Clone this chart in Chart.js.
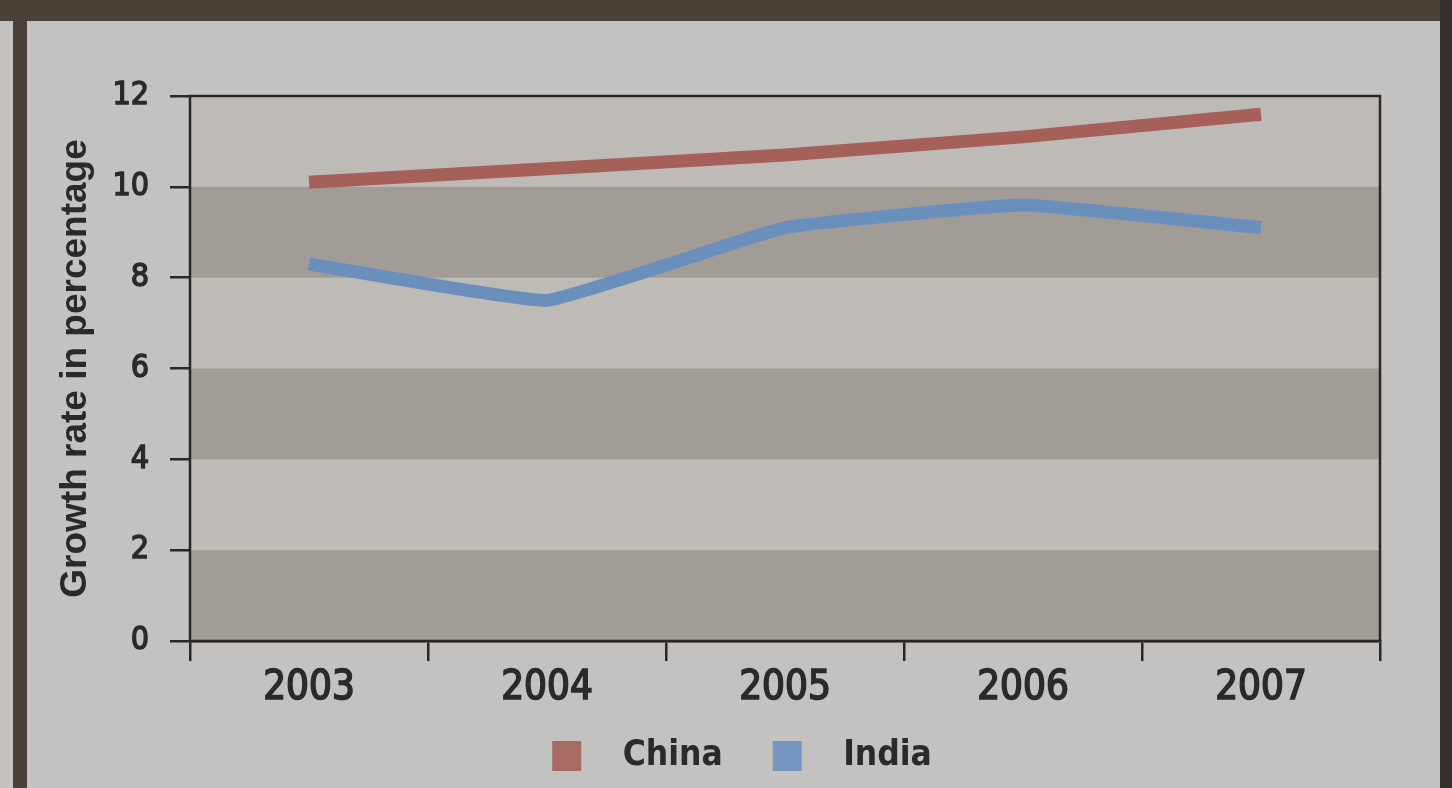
<!DOCTYPE html>
<html>
<head>
<meta charset="utf-8">
<script src="https://cdn.jsdelivr.net/npm/chart.js@4"></script>
<style>
  body { margin: 0; background: #c3c2c0; }
  #wrap { position: relative; width: 1452px; height: 788px; overflow: hidden; }
  .frame { position: absolute; background: #4a4139; }
  #myChart { position: absolute; left: 0; top: 0; }
</style>
</head>
<body>
<div id="wrap">
  <div class="frame" style="left:0;top:0;width:1452px;height:21px;"></div>
  <div class="frame" style="left:13px;top:0;width:14px;height:788px;"></div>
  <div class="frame" style="left:1440px;top:0;width:12px;height:788px;background:#35302b;"></div>
  <canvas id="myChart" width="1452" height="788"></canvas>
</div>
<script>
const years = ['2003', '2004', '2005', '2006', '2007'];
const china = [10.1, 10.4, 10.7, 11.1, 11.6];
const india = [8.3, 7.5, 9.1, 9.6, 9.1];
const yTicks = [0, 2, 4, 6, 8, 10, 12];

const cond = "'Liberation Sans Narrow', 'DejaVu Sans Condensed', sans-serif";
const textColor = '#2b2a29';

// legend swatch: a small square with empty space before it
function swatch(color) {
    const c = document.createElement('canvas');
    c.width = 95;
    c.height = 30;
    const g = c.getContext('2d');
    g.fillStyle = color;
    g.fillRect(42, 0, 29, 30);
    return c;
}

// grey bands between every other pair of y ticks, plus the frame
const bands = {
    id: 'bands',
    beforeDatasetsDraw(chart) {
        const {ctx, chartArea: a, scales: {y}} = chart;
        ctx.save();
        ctx.fillStyle = '#bebbb7';
        ctx.fillRect(a.left, a.top, a.right - a.left, a.bottom - a.top);
        ctx.fillStyle = '#a29c97';
        for (let i = 0; i < yTicks.length - 1; i += 2) {
            const top = y.getPixelForValue(yTicks[i + 1]);
            const bottom = y.getPixelForValue(yTicks[i]);
            ctx.fillRect(a.left, top, a.right - a.left, bottom - top);
        }
        ctx.strokeStyle = '#2a2826';
        ctx.lineWidth = 2.5;
        ctx.strokeRect(a.left, a.top, a.right - a.left, a.bottom - a.top);
        ctx.restore();
    }
};

const ctx = document.getElementById('myChart').getContext('2d');
const chart = new Chart(ctx, {
    type: 'line',
    data: {
        labels: years,
        datasets: [{
            label: 'China',
            data: china,
            borderColor: '#a6605a',
            backgroundColor: '#a86b65',
            borderWidth: 13,
            borderCapStyle: 'butt',
            borderJoinStyle: 'round',
            pointRadius: 0,
            tension: 0
        }, {
            label: 'India',
            data: india,
            borderColor: '#6a8fbd',
            backgroundColor: '#7597bf',
            borderWidth: 13,
            borderCapStyle: 'butt',
            borderJoinStyle: 'round',
            pointRadius: 0,
            tension: 0.1
        }]
    },
    options: {
        responsive: false,
        animation: false,
        layout: { padding: { left: 40, top: 96, right: 50, bottom: 5 } },
        plugins: {
            legend: {
                position: 'bottom',
                labels: {
                    color: textColor,
                    usePointStyle: true,
                    pointStyleWidth: 95,
                    padding: 8,
                    font: { family: cond, size: 35, weight: 'bold' },
                    generateLabels(chart) {
                        return chart.data.datasets.map((ds, i) => ({
                            text: ds.label,
                            fillStyle: ds.backgroundColor,
                            strokeStyle: ds.backgroundColor,
                            lineWidth: 0,
                            pointStyle: swatch(ds.backgroundColor),
                            fontColor: textColor,
                            hidden: false,
                            datasetIndex: i
                        }));
                    }
                }
            },
            tooltip: { enabled: false }
        },
        scales: {
            x: {
                offset: true,
                grid: { offset: true, drawOnChartArea: false, drawTicks: true, tickLength: 20, color: '#2a2826', lineWidth: 2.5 },
                border: { display: true, color: '#2a2826', width: 2.5 },
                ticks: { color: textColor, textStrokeColor: textColor, textStrokeWidth: 1.6, padding: 4, font: { family: cond, size: 40 } },
                afterFit(scale) { scale.height = 89; }
            },
            y: {
                min: 0,
                max: 12,
                afterBuildTicks(scale) { scale.ticks = yTicks.map(v => ({ value: v })); },
                grid: { drawOnChartArea: false, drawTicks: true, tickLength: 20, color: '#2a2826', lineWidth: 2.5 },
                border: { display: true, color: '#2a2826', width: 2.5 },
                ticks: { color: textColor, textStrokeColor: textColor, textStrokeWidth: 1.4, padding: 21, font: { family: cond, size: 32 } },
                title: {
                    display: true,
                    text: 'Growth rate in percentage',
                    color: textColor,
                    padding: { top: 14, bottom: 0 },
                    font: { family: "'Liberation Sans', Arial, sans-serif", size: 37, weight: 'bold' }
                },
                afterFit(scale) { scale.width = 150; }
            },
            y2: {
                position: 'right',
                min: 0,
                max: 12,
                grid: { display: false },
                border: { display: false },
                ticks: { display: false },
                afterFit(scale) { scale.width = 22; }
            }
        }
    },
    plugins: [bands]
});
</script>
</body>
</html>
